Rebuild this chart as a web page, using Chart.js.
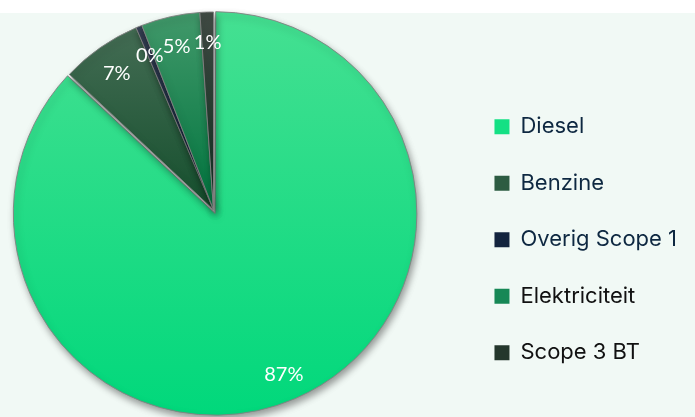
<!DOCTYPE html>
<html>
<head>
<meta charset="utf-8">
<script src="https://cdn.jsdelivr.net/npm/chart.js@4.4.1/dist/chart.umd.min.js"></script>
<style>
  html, body { margin: 0; padding: 0; background: #f1f9f5; }
  #wrap { width: 695px; height: 417px; }
</style>
</head>
<body>
<div id="wrap"><canvas id="grafico" width="695" height="417"></canvas></div>
<script>
// dati
const categorie = ['Diesel', 'Benzine', 'Overig Scope 1', 'Elektriciteit', 'Scope 3 BT'];
const aandeel = [87.0, 6.6, 0.5, 4.8, 1.1];
const etiketten = ['87%', '7%', '0%', '5%', '1%'];

// kleuren (boven -> onder)
const kleurBoven = ['#46e092', '#4a7059', '#3c4558', '#449a6c', '#434c46'];
const kleurOnder = ['#00d87b', '#154f2d', '#0a1d38', '#00743e', '#0e301f'];
const kleurLegenda = ['#14e084', '#2d5c42', '#13243e', '#178856', '#24372c'];
const tekstLegenda = ['#0e2841', '#0e2841', '#0e2841', '#111111', '#111111'];
const uitspringen = [16, 0, 0, 0, 0];

// achtergrond: witte strook boven, mint eronder
const achtergrond = {
  id: 'achtergrond',
  beforeDraw(chart) {
    const c = chart.ctx;
    c.save();
    c.fillStyle = '#f1f9f5';
    c.fillRect(0, 0, chart.width, chart.height);
    c.fillStyle = '#ffffff';
    c.fillRect(0, 0, chart.width, 13);
    c.restore();
  }
};

// taart iets naar links: tekenvak links van de legenda smaller maken
const taartVak = {
  id: 'taartVak',
  afterLayout(chart) {
    const a = chart.chartArea;
    a.left = 0;
    a.right = 427;
    a.width = a.right - a.left;
  }
};

// schaduw onder de taart
const schaduw = {
  id: 'schaduw',
  beforeDatasetsDraw(chart) {
    const c = chart.ctx;
    c.save();
    c.shadowColor = 'rgba(0,0,0,0.38)';
    c.shadowBlur = 7;
    c.shadowOffsetX = 2;
    c.shadowOffsetY = 4;
  },
  afterDatasetsDraw(chart) {
    chart.ctx.restore();
  }
};

// percentages in de punten
const etiket = {
  id: 'etiket',
  afterDatasetsDraw(chart) {
    const c = chart.ctx;
    const meta = chart.getDatasetMeta(0);
    c.save();
    c.fillStyle = '#ffffff';
    c.font = '20px Lato';
    c.textAlign = 'center';
    c.textBaseline = 'middle';
    meta.data.forEach((arc, i) => {
      const p = arc.getProps(['x', 'y', 'startAngle', 'endAngle', 'outerRadius', 'circumference'], true);
      const mid = (p.startAngle + p.endAngle) / 2;
      // zelfde verschuiving als ArcElement.draw
      const o = uitspringen[i] / 4;
      const fix = 1 - Math.sin(Math.min(Math.PI, p.circumference || 0));
      const off = o + o * fix;
      const r = p.outerRadius * 0.855 + off;
      c.fillText(etiketten[i], p.x + Math.cos(mid) * r, p.y + Math.sin(mid) * r + 2);
    });
    c.restore();
  }
};

function verloop(context) {
  const chart = context.chart;
  const area = chart.chartArea;
  if (!area) return kleurOnder[context.dataIndex];
  const i = context.dataIndex;
  const midden = (area.top + area.bottom) / 2;
  const eind = i === 0 ? area.bottom : midden;
  const g = chart.ctx.createLinearGradient(0, area.top, 0, eind);
  g.addColorStop(0, kleurBoven[i]);
  g.addColorStop(1, kleurOnder[i]);
  return g;
}

new Chart(document.getElementById('grafico'), {
  type: 'pie',
  data: {
    labels: categorie,
    datasets: [{
      data: aandeel,
      backgroundColor: verloop,
      borderColor: 'rgba(130,130,130,0.9)',
      borderWidth: 1,
      offset: uitspringen
    }]
  },
  options: {
    responsive: false,
    animation: false,
    layout: { padding: { left: 0, right: 8, top: 3.5, bottom: 1 } },
    plugins: {
      tooltip: { enabled: false },
      legend: {
        position: 'right',
        align: 'center',
        title: { display: true, text: '', font: { size: 10, lineHeight: 1 }, padding: { top: 50, bottom: 0 } },
        labels: {
          boxWidth: 15,
          boxHeight: 15,
          padding: 34.5,
          font: { family: 'Inter', size: 22 },
          generateLabels(chart) {
            return categorie.map((t, i) => ({
              text: t,
              fillStyle: kleurLegenda[i],
              strokeStyle: kleurLegenda[i],
              lineWidth: 0,
              fontColor: tekstLegenda[i],
              hidden: false,
              index: i
            }));
          }
        }
      }
    }
  },
  plugins: [achtergrond, taartVak, schaduw, etiket]
});
</script>
</body>
</html>
